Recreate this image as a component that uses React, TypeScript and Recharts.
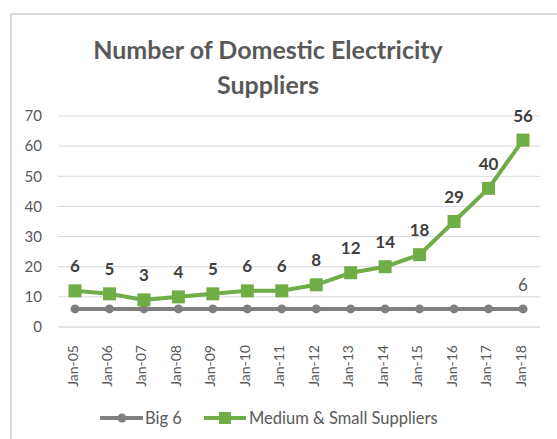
import React from 'react';
import { LineChart, Line, XAxis, YAxis, CartesianGrid, Legend } from 'recharts';

const categories = ['Jan-05', 'Jan-06', 'Jan-07', 'Jan-08', 'Jan-09', 'Jan-10', 'Jan-11', 'Jan-12', 'Jan-13', 'Jan-14', 'Jan-15', 'Jan-16', 'Jan-17', 'Jan-18'];
const big6 = [6, 6, 6, 6, 6, 6, 6, 6, 6, 6, 6, 6, 6, 6];
const mediumSmall = [6, 5, 3, 4, 5, 6, 6, 8, 12, 14, 18, 29, 40, 56];
const yTicks = [0, 10, 20, 30, 40, 50, 60, 70];

const data = categories.map((c, i) => ({
  cat: c,
  big6: big6[i],
  medium: mediumSmall[i],
  total: big6[i] + mediumSmall[i],
}));

const FONT = 'Lato, "Open Sans", sans-serif';
const GRAY = '#7f7f7f';
const GREEN = '#70ad47';

const XTick = (props: any) => {
  const { x, y, payload } = props;
  return (
    <text
      transform={`translate(${x - 3},${y + 10}) rotate(-90)`}
      textAnchor="end"
      dominantBaseline="central"
      fontSize={14}
      fill="#595959"
      fontFamily={FONT}
    >
      {payload.value}
    </text>
  );
};

const GreenDot = (p: any) => (
  <rect key={`g${p.index}`} x={p.cx - 6.5} y={p.cy - 6.5} width={13} height={13} fill={GREEN} />
);
const GrayDot = (p: any) => (
  <circle key={`c${p.index}`} cx={p.cx} cy={p.cy} r={4.5} fill={GRAY} />
);

const GreenLabel = (p: any) => (
  <text
    key={`gl${p.index}`}
    x={p.x}
    y={p.y - 25}
    textAnchor="middle"
    dominantBaseline="central"
    fontSize={17}
    fontWeight="bold"
    fill="#404040"
    fontFamily={FONT}
  >
    {mediumSmall[p.index]}
  </text>
);

const GrayLabel = (p: any) =>
  p.index === categories.length - 1 ? (
    <text
      key={`cl${p.index}`}
      x={p.x}
      y={p.y - 24}
      textAnchor="middle"
      dominantBaseline="central"
      fontSize={17}
      fill="#595959"
      fontFamily={FONT}
    >
      {big6[p.index]}
    </text>
  ) : (
    <g key={`cl${p.index}`} />
  );

const LegendContent = () => (
  <div style={{ position: 'relative', height: 30 }}>
    <svg width={557} height={30} style={{ position: 'absolute', left: 0, top: 0 }}>
      <line x1={100} y1={15} x2={143} y2={15} stroke={GRAY} strokeWidth={4} />
      <circle cx={122} cy={15} r={4.5} fill={GRAY} />
      <text x={145} y={15} dominantBaseline="central" fontSize={16.5} fill="#595959" fontFamily={FONT}>Big 6</text>
      <line x1={204} y1={15} x2={246} y2={15} stroke={GREEN} strokeWidth={4} />
      <rect x={219} y={9} width={12} height={12} fill={GREEN} />
      <text x={249} y={15} dominantBaseline="central" fontSize={16.5} fill="#595959" fontFamily={FONT}>Medium &amp; Small Suppliers</text>
    </svg>
  </div>
);

export default function App() {
  return (
    <div style={{ position: 'fixed', left: 0, top: 0, width: 557, height: 439, background: '#fff', overflow: 'hidden' }}>
      <div
        style={{
          position: 'absolute',
          left: 10,
          top: 13,
          width: 600,
          height: 500,
          border: '2px solid #d9d9d9',
          boxSizing: 'border-box',
        }}
      />
      <div
        style={{
          position: 'absolute',
          left: 0,
          width: 536,
          top: 32,
          textAlign: 'center',
          fontFamily: FONT,
          fontWeight: 'bold',
          fontSize: 25,
          lineHeight: '35px',
          color: '#595959',
        }}
      >
        Number of Domestic Electricity
        <br />
        Suppliers
      </div>
      <div style={{ position: 'absolute', left: 0, top: 0 }}>
        <LineChart
          width={557}
          height={439}
          data={data}
          margin={{ top: 116, right: 17, left: 0, bottom: 6 }}
        >
          <CartesianGrid horizontal vertical={false} stroke="#d9d9d9" strokeWidth={1} />
          <XAxis
            dataKey="cat"
            tick={<XTick />}
            tickLine={false}
            axisLine={{ stroke: '#d9d9d9' }}
            interval={0}
            height={76}
            padding={{ left: 17, right: 17 }}
          />
          <YAxis
            domain={[0, 70]}
            ticks={yTicks}
            width={58}
            axisLine={false}
            tickLine={false}
            tick={{ fontSize: 15, fill: '#595959', fontFamily: FONT }}
            tickMargin={10}
          />
          <Legend verticalAlign="bottom" height={30} content={<LegendContent />} />
          <Line
            dataKey="big6"
            name="Big 6"
            stroke={GRAY}
            strokeWidth={4}
            dot={GrayDot}
            activeDot={false}
            label={GrayLabel}
            isAnimationActive={false}
          />
          <Line
            dataKey="total"
            name="Medium & Small Suppliers"
            stroke={GREEN}
            strokeWidth={4}
            dot={GreenDot}
            activeDot={false}
            label={GreenLabel}
            isAnimationActive={false}
          />
        </LineChart>
      </div>
    </div>
  );
}
